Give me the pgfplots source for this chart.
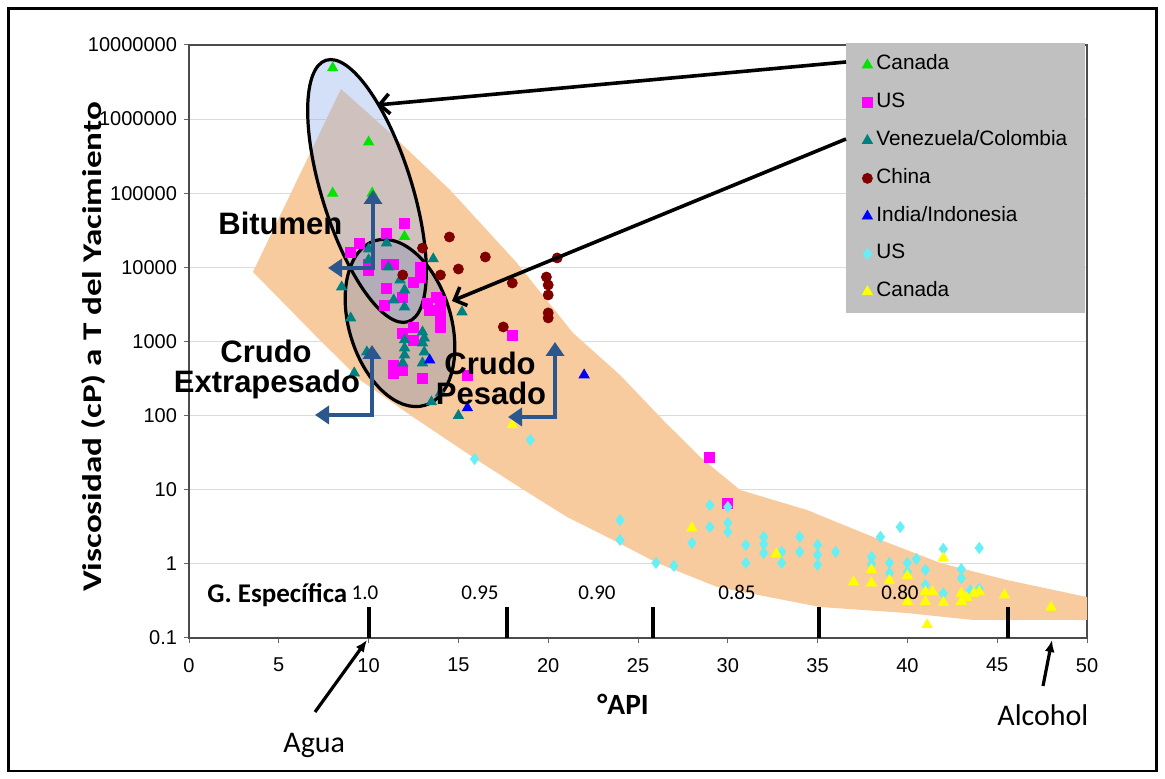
\documentclass[border=0pt]{standalone}
\usepackage{fontspec}
\setmainfont{Liberation Sans}
\newfontfamily\carl{Carlito}
\usepackage{pgfplots}
\pgfplotsset{compat=1.18}
\usetikzlibrary{arrows.meta}
\definecolor{band}{RGB}{248,203,158}
\definecolor{leggray}{RGB}{192,192,192}
\definecolor{cgreen}{RGB}{0,228,0}
\definecolor{cmag}{RGB}{255,0,255}
\definecolor{cteal}{RGB}{0,128,128}
\definecolor{cdred}{RGB}{128,0,0}
\definecolor{cblue}{RGB}{0,0,255}
\definecolor{ccyan}{RGB}{100,240,245}
\definecolor{cyel}{RGB}{255,255,0}
\definecolor{barrow}{RGB}{44,86,142}
\definecolor{bitfill}{RGB}{150,180,235}
\definecolor{crufill}{RGB}{145,150,180}
\begin{document}
\begin{tikzpicture}
\useasboundingbox (0,0) rectangle (582.5pt,389.5pt);
\begin{scope}[shift={(0pt,389.5pt)},x=0.5pt,y=-0.5pt]
\draw[line width=1.2pt] (8.5,8.5) rectangle (1156.5,771);
\end{scope}
% ---------- axis with band, grid, ticks
\begin{semilogyaxis}[at={(94.5pt,70.5pt)}, anchor=south west, scale only axis,
  width=449pt, height=296.5pt, xmin=0, xmax=50, ymin=0.1, ymax=1e7,
  axis line style={black!70, line width=0.8pt},
  tick style={black!60, line width=0.5pt},
  tick align=outside, major tick length=2.5pt, tick pos=left,
  ymajorgrids, grid style={gray!28, line width=0.6pt},
  yminorticks=false, xminorticks=false,
  xtick={0,5,10,15,20,25,30,35,40,45,50},
  xticklabels={0,5,10,15,20,25,30,35,40,45,50},
  ytick={0.1,1,10,100,1000,10000,100000,1000000,10000000},
  yticklabels={0.1,1,10,100,1000,10000,100000,1000000,10000000},
  ticklabel style={font=\fontsize{10}{12}\selectfont},
  xticklabel style={yshift=-4pt},
  /pgf/number format/assume math mode=true,
]
\addplot[fill=band, draw=none] coordinates {
 (3.56,8670) (8.46,2.55e6) (11.02,7.13e5) (14.53,1.11e5) (18.26,11460)
 (21.38,1303) (24.0,353) (26.39,87.3) (28.45,27.7) (30.68,9.93)
 (34.41,5.33) (38.08,2.31) (41.82,1.03) (45.55,0.605) (50,0.357)
 (50,0.175) (43.65,0.175) (39.98,0.217) (35.13,0.262) (29.40,0.488)
 (26.06,1.03) (23.61,2.10) (21.05,4.29) (18.82,9.33) (16.04,25.2)
 (12.31,102) (9.52,303) (6.90,1303)
};
\end{semilogyaxis}
% ---------- ellipses
\begin{scope}[shift={(0pt,389.5pt)},x=0.5pt,y=-0.5pt]
\fill[bitfill, opacity=0.42, shift={(367,191)}, rotate=-72.6] (0,0) ellipse [x radius=68.5pt, y radius=22.5pt];
\fill[crufill, opacity=0.45, shift={(400,323)}, rotate=-73.1] (0,0) ellipse [x radius=43pt, y radius=25.5pt];
\draw[line width=1.6pt, shift={(367,191)}, rotate=-72.6] (0,0) ellipse [x radius=68.5pt, y radius=22.5pt];
\draw[line width=1.6pt, shift={(400,323)}, rotate=-73.1] (0,0) ellipse [x radius=43pt, y radius=25.5pt];
\end{scope}
% ---------- data points and legend
\begin{semilogyaxis}[at={(94.5pt,70.5pt)}, anchor=south west, scale only axis,
  width=449pt, height=296.5pt, xmin=0, xmax=50, ymin=0.1, ymax=1e7,
  hide axis, clip=false,
  legend style={at={(axis description cs:0.7316,1.0034)}, anchor=north west,
    fill=leggray, draw=none, font=\fontsize{10.4}{12}\selectfont,
    inner xsep=8pt, inner ysep=4.8pt, row sep=6.9pt, column sep=1pt,
    nodes={inner sep=1pt, text height=7.5pt, text depth=2.5pt}},
  legend cell align=left,
  legend image code/.code={\draw[#1] plot coordinates {(0pt,0pt)};},
]
\addplot[only marks, mark=triangle*, mark size=2.9pt, color=cgreen] coordinates {
 (8.0,4.9e6) (10.0,4.9e5) (8.0,1.0e5) (10.2,1.0e5) (12.0,2.6e4)
};
\addlegendentry{Canada}
\addplot[only marks, mark=square*, mark size=2.5pt, color=cmag] coordinates {
 (12.0,39700) (11.0,29100) (9.5,21300) (9.0,16100) (10.0,10800) (10.0,9220)
 (11.0,10800) (11.4,10800) (11.0,5270) (10.9,3100) (11.9,3980) (12.5,6350)
 (12.9,10100) (12.9,7410) (13.25,3300) (13.8,3980) (14.0,2920) (14.0,2140)
 (14.0,1570) (12.5,1570) (11.9,1300) (12.5,1050) (11.4,482) (11.9,413)
 (11.4,376) (13.0,322) (15.5,353) (18.0,1220) (29.0,27) (30.0,6.6)
 (13.4,2600) (14.0,3500)
};
\addlegendentry{US}
\addplot[only marks, mark=triangle*, mark size=2.9pt, color=cteal] coordinates {
 (11.0,21300) (10.0,17700) (10.0,12600) (11.1,10100) (13.6,13000) (11.75,6760)
 (12.0,4950) (11.4,3630) (12.0,2920) (15.2,2500) (8.5,5440) (9.0,2070)
 (13.0,1340) (13.1,1110) (13.0,955) (12.0,1050) (12.0,817) (12.0,657)
 (13.1,721) (11.9,513) (13.0,513) (9.9,721) (10.2,657) (9.2,376)
 (13.5,153) (15.0,100) (14.0,202)
};
\addlegendentry{Venezuela/Colombia}
\addplot[only marks, mark=*, mark size=2.5pt, color=cdred] coordinates {
 (14.5,25700) (16.5,13800) (15.0,9500) (14.0,7890) (13.0,18200) (18.0,6150)
 (20.5,13400) (19.9,7410) (20.0,5780) (20.0,4240) (20.0,2430) (20.0,2080)
 (17.5,1570) (11.9,7890)
};
\addlegendentry{China}
\addplot[only marks, mark=triangle*, mark size=2.9pt, color=cblue] coordinates {
 (13.4,562) (15.5,127) (22.0,353)
};
\addlegendentry{India/Indonesia}
\addplot[only marks, mark=diamond*, mark size=2.7pt, color=ccyan] coordinates {
 (15.9,26) (19.0,47) (24.0,3.9) (24.0,2.1) (26.0,1.03) (27.0,0.94) (28.0,1.91)
 (29.0,6.2) (29.0,3.14) (30.0,5.85) (30.0,3.56) (30.0,2.69) (31.0,1.8)
 (31.0,1.03) (32.0,2.31) (32.0,1.85) (32.0,1.4) (33.0,1.45) (33.0,1.03)
 (34.0,2.31) (34.0,1.45) (35.0,1.8) (35.0,1.32) (35.0,0.97) (36.0,1.45)
 (38.0,1.24) (38.0,1.0) (38.5,2.31) (39.6,3.14) (39.0,1.03) (39.0,0.75)
 (40.0,1.03) (40.0,0.78) (40.5,1.16) (41.0,0.83) (41.0,0.52) (42.0,1.59)
 (42.0,0.40) (43.0,0.85) (43.0,0.64) (43.5,0.44) (44.0,1.64) (44.0,0.46)
};
\addlegendentry{US}
\addplot[only marks, mark=triangle*, mark size=2.9pt, color=cyel] coordinates {
 (18.0,75) (28.0,3.05) (32.7,1.36) (37.0,0.57) (38.0,0.83) (38.0,0.55)
 (39.0,0.6) (40.0,0.69) (40.0,0.31) (41.0,0.42) (41.0,0.31) (41.4,0.42)
 (41.1,0.15) (42.0,1.2) (42.0,0.30) (43.0,0.40) (43.0,0.31) (43.3,0.35)
 (43.7,0.40) (44.0,0.42) (45.4,0.38) (48.0,0.26)
};
\addlegendentry{Canada}
\end{semilogyaxis}
% ---------- annotations (pixel coordinates)
\begin{scope}[shift={(0pt,389.5pt)},x=0.5pt,y=-0.5pt]
\foreach \xx in {369,507,653,819,1008} \draw[line width=2pt] (\xx,638) -- (\xx,607);
\node[anchor=base west, inner sep=0, font=\carl\bfseries\fontsize{13.5}{15}\selectfont] at (207,603) {G. Específica};
\foreach \xx/\tt in {365/1.0,480/0.95,597/0.90,737/0.85,900/0.80}
  \node[anchor=base, inner sep=0, font=\carl\fontsize{10.5}{12}\selectfont] at (\xx,600) {\tt};
\node[anchor=base west, inner sep=0, font=\carl\bfseries\fontsize{14.7}{16}\selectfont] at (597,715) {°API};
\node[anchor=base west, inner sep=0, font=\carl\fontsize{15}{16}\selectfont] at (283,753) {Agua};
\node[anchor=base west, inner sep=0, font=\carl\fontsize{15}{16}\selectfont] at (997,726) {Alcohol};
\node[rotate=90, inner sep=0, font=\carl\bfseries\fontsize{13.5}{15}\selectfont] at (94,347) {\scalebox{1.3}[1]{Viscosidad (cP) a T del Yacimiento}};
% region labels
\node[anchor=base west, inner sep=0, font=\bfseries\fontsize{15.5}{17}\selectfont] at (218,235) {Bitumen};
\node[anchor=base, inner sep=0, font=\bfseries\fontsize{15.5}{17}\selectfont] at (266,363) {Crudo};
\node[anchor=base, inner sep=0, font=\bfseries\fontsize{15.5}{17}\selectfont] at (267,393) {Extrapesado};
\node[anchor=base, inner sep=0, font=\bfseries\fontsize{15.5}{17}\selectfont] at (490,375) {Crudo};
\node[anchor=base, inner sep=0, font=\bfseries\fontsize{15.5}{17}\selectfont] at (491,405) {Pesado};
% blue arrows
\draw[barrow, line width=2.3pt, {Triangle[width=9pt,length=7pt]}-{Triangle[width=9pt,length=7pt]}] (373,190) -- (373,268) -- (328,268);
\draw[barrow, line width=2.3pt, {Triangle[width=9pt,length=7pt]}-{Triangle[width=9pt,length=7pt]}] (372,345) -- (372,415) -- (315,415);
\draw[barrow, line width=2.3pt, {Triangle[width=9pt,length=7pt]}-{Triangle[width=9pt,length=7pt]}] (555,342) -- (555,417) -- (508,417);
% black arrows
\draw[line width=1.8pt, -{Straight Barb[length=5pt,width=10pt]}] (846,62) -- (377,105);
\draw[line width=1.8pt, -{Straight Barb[length=5pt,width=10pt]}] (846,139) -- (452,301);
\draw[line width=1.6pt, -{Latex[length=6pt,width=5pt]}] (315,712) -- (367,640);
\draw[line width=1.6pt, -{Latex[length=6pt,width=5pt]}] (1043,686) -- (1052,640);
\end{scope}
\end{tikzpicture}
\end{document}
